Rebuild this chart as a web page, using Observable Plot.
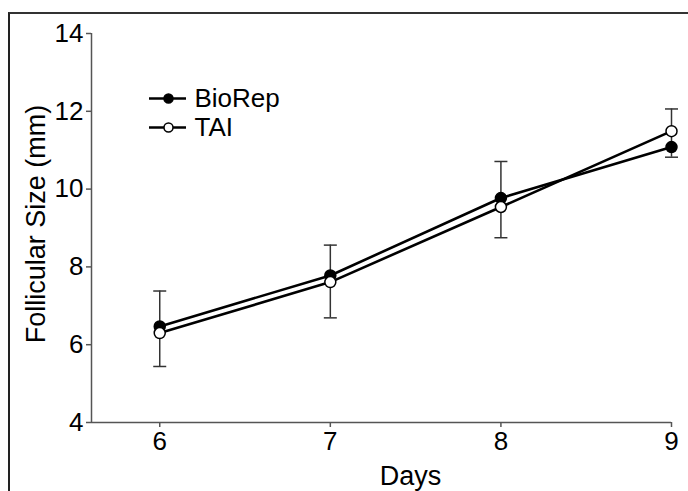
<!DOCTYPE html>
<html><head><meta charset="utf-8">
<script src="https://cdn.jsdelivr.net/npm/d3@7"></script>
<script src="https://cdn.jsdelivr.net/npm/@observablehq/plot@0.6"></script>
<style>
html,body{margin:0;padding:0;background:#fff;}
body{width:688px;height:491px;overflow:hidden;position:relative;}
#wrap{position:absolute;left:8px;top:12px;border-left:2px solid #222;border-top:2px solid #333;width:678px;height:477px;}
#wrap svg{display:block;}
</style></head><body><div id="wrap"></div>
<script>
const days = [6, 7, 8, 9];
const seriesNames = ["BioRep", "TAI"];
const bioRep = [6.47, 7.78, 9.77, 11.08];
const tai = [6.30, 7.61, 9.54, 11.49];
const errLow = [5.44, 6.69, 8.75, 10.82];
const errHigh = [7.38, 8.56, 10.71, 12.06];
const xTicks = [6, 7, 8, 9];
const yTicks = [4, 6, 8, 10, 12, 14];
const xDomain = [5.6, 9];
const yDomain = [4, 14];
const xLabel = "Days";
const yLabel = "Follicular Size (mm)";

const seriesValues = {BioRep: bioRep, TAI: tai};
const seriesFill = {BioRep: "black", TAI: "white"};
const rows = seriesNames.flatMap(s => days.map((d, i) => ({day: d, series: s, value: seriesValues[s][i]})));
const errs = days.map((d, i) => ({day: d, low: errLow[i], high: errHigh[i]}));
const hline = (hw) => ({draw(ctx) { ctx.moveTo(-hw, 0); ctx.lineTo(hw, 0); }});
const font = "'Liberation Sans', Arial, Helvetica, sans-serif";
const axisColor = "#555";
const fs = 26;
const labelFs = 27;

const legendMarks = seriesNames.flatMap((s, i) => {
  const dy = 65 + 29 * i;
  return [
    Plot.dot([s], {frameAnchor: "top-left", dx: 76, dy, symbol: hline(18.5), fill: "none", stroke: "black", strokeWidth: 2.5}),
    Plot.dot([s], {frameAnchor: "top-left", dx: 77, dy, r: 4.5, fill: seriesFill[s], stroke: "black", strokeWidth: 1.5}),
    Plot.text([s], {frameAnchor: "top-left", dx: 103, dy, text: d => d, textAnchor: "start", lineAnchor: "middle", fontSize: fs, fill: "black"})
  ];
});

const chart = Plot.plot({
  width: 678, height: 477,
  marginLeft: 81, marginRight: 17, marginTop: 19, marginBottom: 69,
  style: {fontFamily: font, fontSize: fs + "px", background: "white", color: "black"},
  x: {domain: xDomain, label: null},
  y: {domain: yDomain, label: null},
  marks: [
    Plot.ruleX([xDomain[0]], {stroke: axisColor, strokeWidth: 1.5}),
    Plot.ruleY([yDomain[0]], {stroke: axisColor, strokeWidth: 1.5}),
    Plot.axisY({ticks: yTicks, tickFormat: d => String(d), tickSize: 5, tickPadding: 3, stroke: axisColor, strokeWidth: 1.5, fill: "black", fontSize: fs, label: null}),
    Plot.axisX({ticks: xTicks, tickFormat: d => String(d), tickSize: 5, tickPadding: 4, stroke: axisColor, strokeWidth: 1.5, fill: "black", fontSize: fs, label: null}),
    Plot.text([xLabel], {frameAnchor: "bottom", text: d => d, dx: 29, dy: 62, lineAnchor: "bottom", textAnchor: "middle", fontSize: labelFs, fill: "black"}),
    Plot.text([yLabel], {frameAnchor: "left", text: d => d, rotate: -90, dx: -47, dy: -4, lineAnchor: "bottom", textAnchor: "middle", fontSize: labelFs, fill: "black"}),
    Plot.ruleX(errs, {x: "day", y1: "low", y2: "high", stroke: "#333", strokeWidth: 1.5}),
    Plot.dot(errs, {x: "day", y: "low", symbol: hline(6.5), fill: "none", stroke: "#333", strokeWidth: 1.5}),
    Plot.dot(errs, {x: "day", y: "high", symbol: hline(6.5), fill: "none", stroke: "#333", strokeWidth: 1.5}),
    Plot.line(rows, {x: "day", y: "value", z: "series", stroke: "black", strokeWidth: 2.6}),
    ...seriesNames.map(s => Plot.dot(rows.filter(r => r.series === s), {x: "day", y: "value", r: 5.5, fill: seriesFill[s], stroke: "black", strokeWidth: 1.5})),
    ...legendMarks
  ]
});
document.getElementById("wrap").appendChild(chart);
</script>
</body></html>
